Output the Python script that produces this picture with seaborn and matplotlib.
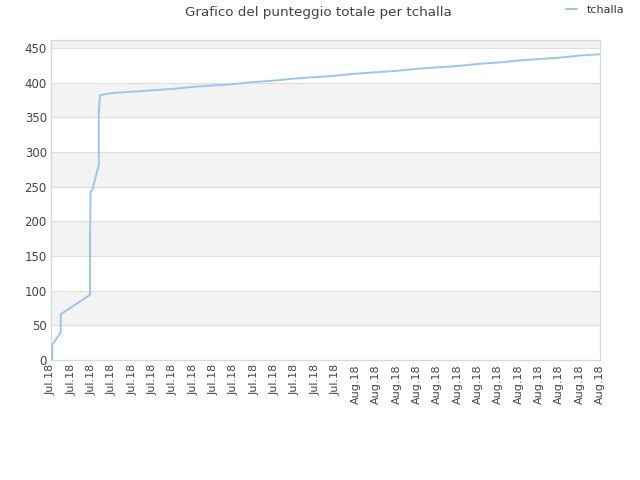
import numpy as np
import pandas as pd
import seaborn as sns
import matplotlib
matplotlib.use("Agg")
import matplotlib.pyplot as plt

# x in tick-index units (one tick every two days), y = cumulative score
x_early = [0.06, 0.06, 0.48, 0.48, 1.92, 1.92, 1.95, 2.03, 2.35, 2.35, 2.41, 2.8]
y_early = [0, 22, 40, 66, 94, 180, 243, 245, 281, 356, 382, 384]
x_tail = [3, 4, 5, 6, 7, 8, 9, 10, 11, 12, 13, 14, 15, 16, 17, 18, 19, 20,
          21, 22, 23, 24, 25, 26, 27]
y_tail = [385, 387, 389, 391, 394, 396, 398, 401, 403, 406, 408, 410, 413,
          415, 417, 420, 422, 424, 427, 429, 432, 434, 436, 439, 441]

tick_labels = ["Jul.18"] * 15 + ["Aug.18"] * 13
y_ticks = [0, 50, 100, 150, 200, 250, 300, 350, 400, 450]

df = pd.DataFrame({"x": x_early + x_tail, "punti": y_early + y_tail,
                   "giocatore": "tchalla"})

sns.set_style("white")
plt.rcParams["font.family"] = ["DejaVu Sans"]

fig = plt.figure(figsize=(6.4, 4.8), dpi=100)
ax = fig.add_axes([51 / 640, 1 - 360 / 480, 549 / 640, 320 / 480])

# alternating bands
ymax = 461.5
for i, lo in enumerate(y_ticks):
    if i % 2 == 1:
        ax.axhspan(lo, lo + 50, color="#f3f3f3", zorder=0, lw=0)
for yt in y_ticks[1:]:
    ax.axhline(yt, color="#dedede", lw=0.8, zorder=1)

sns.lineplot(data=df, x="x", y="punti", hue="giocatore", palette=["#99c6f4"],
             sort=False, estimator=None, lw=1.4, ax=ax, zorder=3)

ax.set_xlim(0, 27)
ax.set_ylim(0, ymax)
ax.set_xticks(range(len(tick_labels)))
ax.set_xticklabels(tick_labels, rotation=90, fontsize=8, color="#444444")
ax.set_yticks(y_ticks)
ax.set_yticklabels([str(v) for v in y_ticks], fontsize=8.5, color="#444444")
ax.tick_params(length=0, pad=3)
ax.set_xlabel("")
ax.set_ylabel("")
for s in ax.spines.values():
    s.set_color("#d8d8d8")
    s.set_linewidth(0.9)

fig.text(0.497, 0.973, "Grafico del punteggio totale per tchalla",
         ha="center", va="center", fontsize=9.7, color="#444444")
leg = ax.legend(loc="center left", bbox_to_anchor=(0.92, 1.093), frameon=False,
                fontsize=8, handlelength=1.0, handletextpad=0.9)
for t in leg.get_texts():
    t.set_color("#333333")

fig.savefig("out.png", dpi=100)
